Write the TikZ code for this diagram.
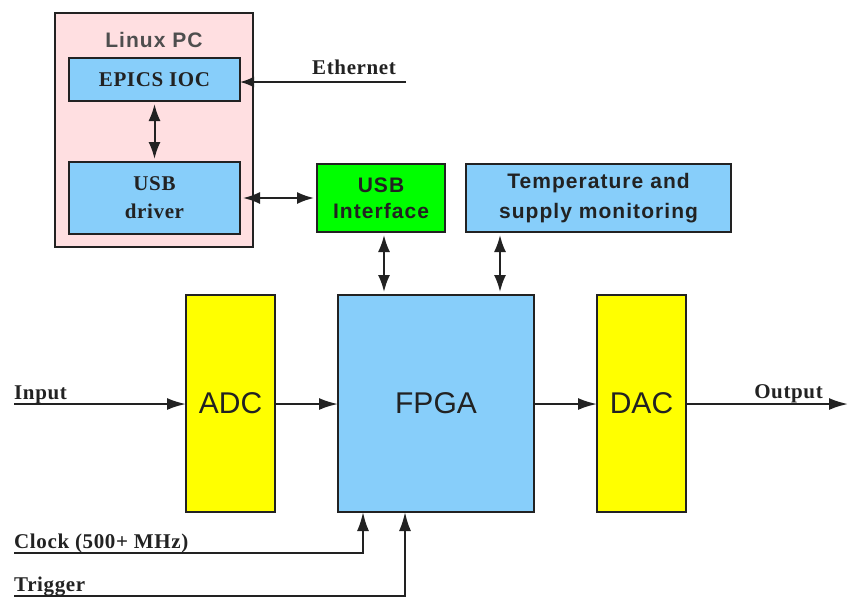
\documentclass[tikz,border=0pt]{standalone}
\usepackage{fontspec}
\setmainfont{Liberation Serif}
\setsansfont{Liberation Sans}
\newfontfamily\lblfont[LetterSpace=3]{Liberation Serif}
\newfontfamily\boxsans[LetterSpace=5]{Liberation Sans}
\usetikzlibrary{arrows.meta}
\definecolor{pcpink}{HTML}{FFDFE1}
\definecolor{boxblue}{HTML}{87CEFA}
\definecolor{usbgreen}{HTML}{00FF00}
\definecolor{convyellow}{HTML}{FFFF00}
\definecolor{ink}{HTML}{222222}
\tikzset{
  blk/.style={draw=ink, line width=2pt, inner sep=0pt, outer sep=0pt, text=ink, align=center},
  bigsans/.style={font=\sffamily\fontsize{30}{34}\selectfont},
  serifbox/.style={font=\lblfont\bfseries\fontsize{21}{28}\selectfont},
  lbl/.style={font=\lblfont\bfseries\fontsize{21}{22}\selectfont, text=ink, inner sep=0pt},
  conn/.style={draw=ink, line width=2pt, -{Latex[length=19pt,width=12pt]}},
  dbl/.style={draw=ink, line width=2pt, {Latex[length=17pt,width=12pt]}-{Latex[length=17pt,width=12pt]}, shorten <=3pt, shorten >=3pt}
}
\begin{document}
\begin{tikzpicture}[x=1pt,y=-1pt]
\useasboundingbox (0,0) rectangle (848,598);

% Linux PC
\node[blk, fill=pcpink, minimum width=198pt, minimum height=234pt] (pc) at (154,130) {};
\node[font=\boxsans\bfseries\fontsize{21}{26}\selectfont, text=ink!80, inner sep=0pt] (pclbl) at (154,40) {Linux PC};
\node[blk, fill=boxblue, serifbox, minimum width=171pt, minimum height=43pt] (epics) at (154.5,79.5) {EPICS IOC};
\node[blk, fill=boxblue, serifbox, minimum width=171pt, minimum height=72pt] (driver) at (154.5,198) {USB\\driver};

% top row
\node[blk, fill=usbgreen, minimum width=128pt, minimum height=68pt, font=\boxsans\bfseries\fontsize{21}{26}\selectfont] (usbif) at (381,198) {USB\\Interface};
\node[blk, fill=boxblue, minimum width=265pt, minimum height=68pt, font=\boxsans\bfseries\fontsize{21}{30}\selectfont] (temp) at (598.5,198) {Temperature and\\supply monitoring};

% main row
\node[blk, fill=convyellow, bigsans, minimum width=89pt, minimum height=217pt] (adc) at (230.5,403.5) {ADC};
\node[blk, fill=boxblue, bigsans, minimum width=196pt, minimum height=217pt] (fpga) at (436,403.5) {FPGA};
\node[blk, fill=convyellow, bigsans, minimum width=89pt, minimum height=217pt] (dac) at (641.5,403.5) {DAC};

% free ends
\coordinate (eth) at (406,82);
\coordinate (in) at (14,404);
\coordinate (out) at (848,404);
\coordinate (clk) at (14,553);
\coordinate (trg) at (14,596);

% connectors
\draw[conn, -{Latex[length=14pt,width=11pt]}] (eth) -- (epics.east |- eth);
\draw[dbl] (epics.south) -- (driver.north);
\draw[dbl] (driver.east) -- (usbif.west);
\draw[dbl] ([xshift=3pt]usbif.south) -- ([xshift=3pt]usbif.south |- fpga.north);
\draw[dbl] ([xshift=34pt]temp.south west) -- ([xshift=34pt]temp.south west |- fpga.north);
\draw[conn] (in) -- (adc.west |- in);
\draw[conn] (adc.east |- in) -- (fpga.west |- in);
\draw[conn] (fpga.east |- in) -- (dac.west |- in);
\draw[conn] (dac.east |- in) -- (out);
\draw[conn] (clk) -| ([xshift=25pt]fpga.south west);
\draw[conn] (trg) -| ([xshift=67pt]fpga.south west);

% labels
\node[lbl, anchor=base west] (ethlbl) at (312,74) {Ethernet};
\node[lbl, anchor=base west] (inlbl) at (14,399) {Input};
\node[lbl, anchor=base east] (outlbl) at (823,398) {Output};
\node[lbl, anchor=base west] (clklbl) at (14,548) {Clock (500+ MHz)};
\node[lbl, anchor=base west] (trglbl) at (14,591) {Trigger};
\end{tikzpicture}
\end{document}
